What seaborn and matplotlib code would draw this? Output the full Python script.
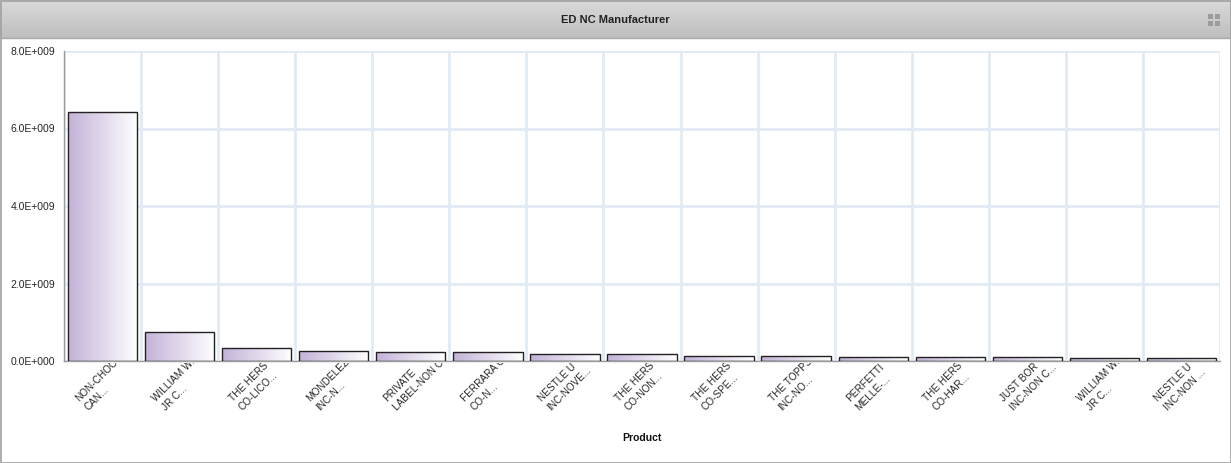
import matplotlib
matplotlib.use("Agg")
import matplotlib.pyplot as plt
import matplotlib.ticker as tick
from matplotlib.patches import Rectangle
from matplotlib.transforms import Bbox, ScaledTranslation
import numpy as np
import pandas as pd
import seaborn as sns

# ------------------------------ data

PRODUCTS = [
    "NON-CHOCO\nCAN...",
    "WILLIAM WR\nJR C...",
    "THE HERS\nCO-LICO...",
    "MONDELEZ\nINC-N...",
    "PRIVATE\nLABEL-NON C",
    "FERRARA C\nCO-N...",
    "NESTLE U\nINC-NOVE...",
    "THE HERS\nCO-NON...",
    "THE HERS\nCO-SPE...",
    "THE TOPPS\nINC-NO...",
    "PERFETTI\nMELLE-...",
    "THE HERS\nCO-HAR...",
    "JUST BOR\nINC-NON C...",
    "WILLIAM WR\nJR C...",
    "NESTLE U\nINC-NON ...",
]
SALES = [
    6.43e9, 7.5e8, 3.4e8, 2.6e8, 2.3e8, 2.3e8, 1.85e8, 1.8e8,
    1.3e8, 1.2e8, 1.13e8, 1.1e8, 1.03e8, 8.8e7, 8.5e7,
]
Y_TICKS = [0, 2e9, 4e9, 6e9, 8e9]

TITLE = "ED NC Manufacturer"
X_LABEL = "Product"

# ------------------------------ style

GRID_BLUE = "#e1ebf5"
AXIS_GREY = "#9a9a9a"
BAR_PURPLE = "#c3b2d8"
FONT = "Liberation Sans"

sns.set_style("white")
plt.rcParams["font.family"] = [FONT, "DejaVu Sans"]

W, H, DPI = 1231, 463, 100
fig = plt.figure(figsize=(W / DPI, H / DPI), dpi=DPI)

# plot area in pixels: x 64..1220, y 51..361
ax = fig.add_axes([64 / W, 1 - 361 / H, (1220 - 64) / W, (361 - 51) / H])

df = pd.DataFrame({"product": range(len(PRODUCTS)), "sales": SALES})
sns.barplot(data=df, x="product", y="sales", ax=ax, width=0.9,
            facecolor="none", edgecolor="#222222", linewidth=1.0,
            errorbar=None, zorder=3)

# horizontal gradient fill inside each bar
grad = np.linspace(0, 1, 256).reshape(1, -1)
cmap = matplotlib.colors.LinearSegmentedColormap.from_list("bar", [BAR_PURPLE, "#ffffff"])
for p in ax.patches:
    x0, y0 = p.get_x(), p.get_y()
    w, h = p.get_width(), p.get_height()
    im = ax.imshow(grad, extent=[x0, x0 + w, y0, y0 + h], cmap=cmap,
                   aspect="auto", zorder=2, interpolation="bilinear")
    im.set_clip_path(p)

n = len(PRODUCTS)
ax.set_xlim(-0.5, n - 0.5)
ax.set_ylim(0, 8e9)
ax.set_yticks(Y_TICKS)


def sci_fmt(v, pos):
    if v <= 0:
        return "0.0E+000"
    exp = int(np.floor(np.log10(v)))
    return "%.1fE+%03d" % (v / 10 ** exp, exp)


ax.yaxis.set_major_formatter(tick.FuncFormatter(sci_fmt))

ax.set_xticks(range(n))
ax.set_xticklabels(PRODUCTS, rotation=45, ha="left", va="top",
                   rotation_mode="anchor", multialignment="left",
                   linespacing=1.45, fontsize=7.2)
ax.set_xticks(np.arange(-0.5, n), minor=True)
ax.tick_params(axis="x", which="major", length=0, pad=0)
ax.tick_params(axis="x", which="minor", length=6, color=GRID_BLUE, width=2)
ax.tick_params(axis="y", length=5, color=AXIS_GREY, labelsize=7.5, pad=1.5)

ax.set_axisbelow(True)
ax.grid(axis="y", which="major", color=GRID_BLUE, linewidth=2)
ax.grid(axis="x", which="minor", color=GRID_BLUE, linewidth=2)
ax.grid(axis="x", which="major", visible=False)
for s in ["top", "right"]:
    ax.spines[s].set_visible(False)
for s in ["left", "bottom"]:
    ax.spines[s].set_color(AXIS_GREY)
    ax.spines[s].set_linewidth(1)

ax.set_ylabel("")
ax.set_xlabel(X_LABEL, fontsize=7.5, fontweight="bold", color="#111111")
ax.xaxis.set_label_coords(0.5, -0.232)

# move each label's first-line start down-left of its bar and clip it
# just under the axis, like the source widget does
shift = ScaledTranslation(-29 / DPI, -35 / DPI, fig.dpi_scale_trans)
clip = Bbox.from_extents(0, 0, W, H - 363)
for lab in ax.get_xticklabels():
    lab.set_transform(lab.get_transform() + shift)
    lab.set_clip_box(clip)
    lab.set_clip_on(True)

# header bar
hdr = fig.add_axes([0, 1 - 38 / H, 1, 38 / H])
hgrad = np.linspace(0, 1, 64).reshape(-1, 1)
hcmap = matplotlib.colors.LinearSegmentedColormap.from_list("hdr", ["#dadada", "#bebebe"])
hdr.imshow(hgrad, cmap=hcmap, aspect="auto", extent=[0, 1, 0, 1], interpolation="bilinear")
hdr.set_xlim(0, 1)
hdr.set_ylim(0, 1)
hdr.axis("off")
hdr.text(0.5, 0.47, TITLE, ha="center", va="center", fontsize=8, fontweight="bold", color="#222222")
fig.add_artist(plt.Line2D([0, 1], [1 - 38 / H, 1 - 38 / H], color="#a8a8a8", linewidth=1))

# small "collapse" icon: four grey squares
for ix, iy in [(1208, 14), (1215, 14), (1208, 21), (1215, 21)]:
    fig.add_artist(Rectangle((ix / W, 1 - (iy + 5) / H), 5 / W, 5 / H, transform=fig.transFigure,
                             facecolor="#9c9c9c", edgecolor="none"))

# outer border
fig.add_artist(Rectangle((0.5 / W, 0.5 / H), 1 - 1 / W, 1 - 1 / H, transform=fig.transFigure,
                         fill=False, edgecolor="#a0a0a0", linewidth=1.2))

fig.savefig("out.png", dpi=DPI)
